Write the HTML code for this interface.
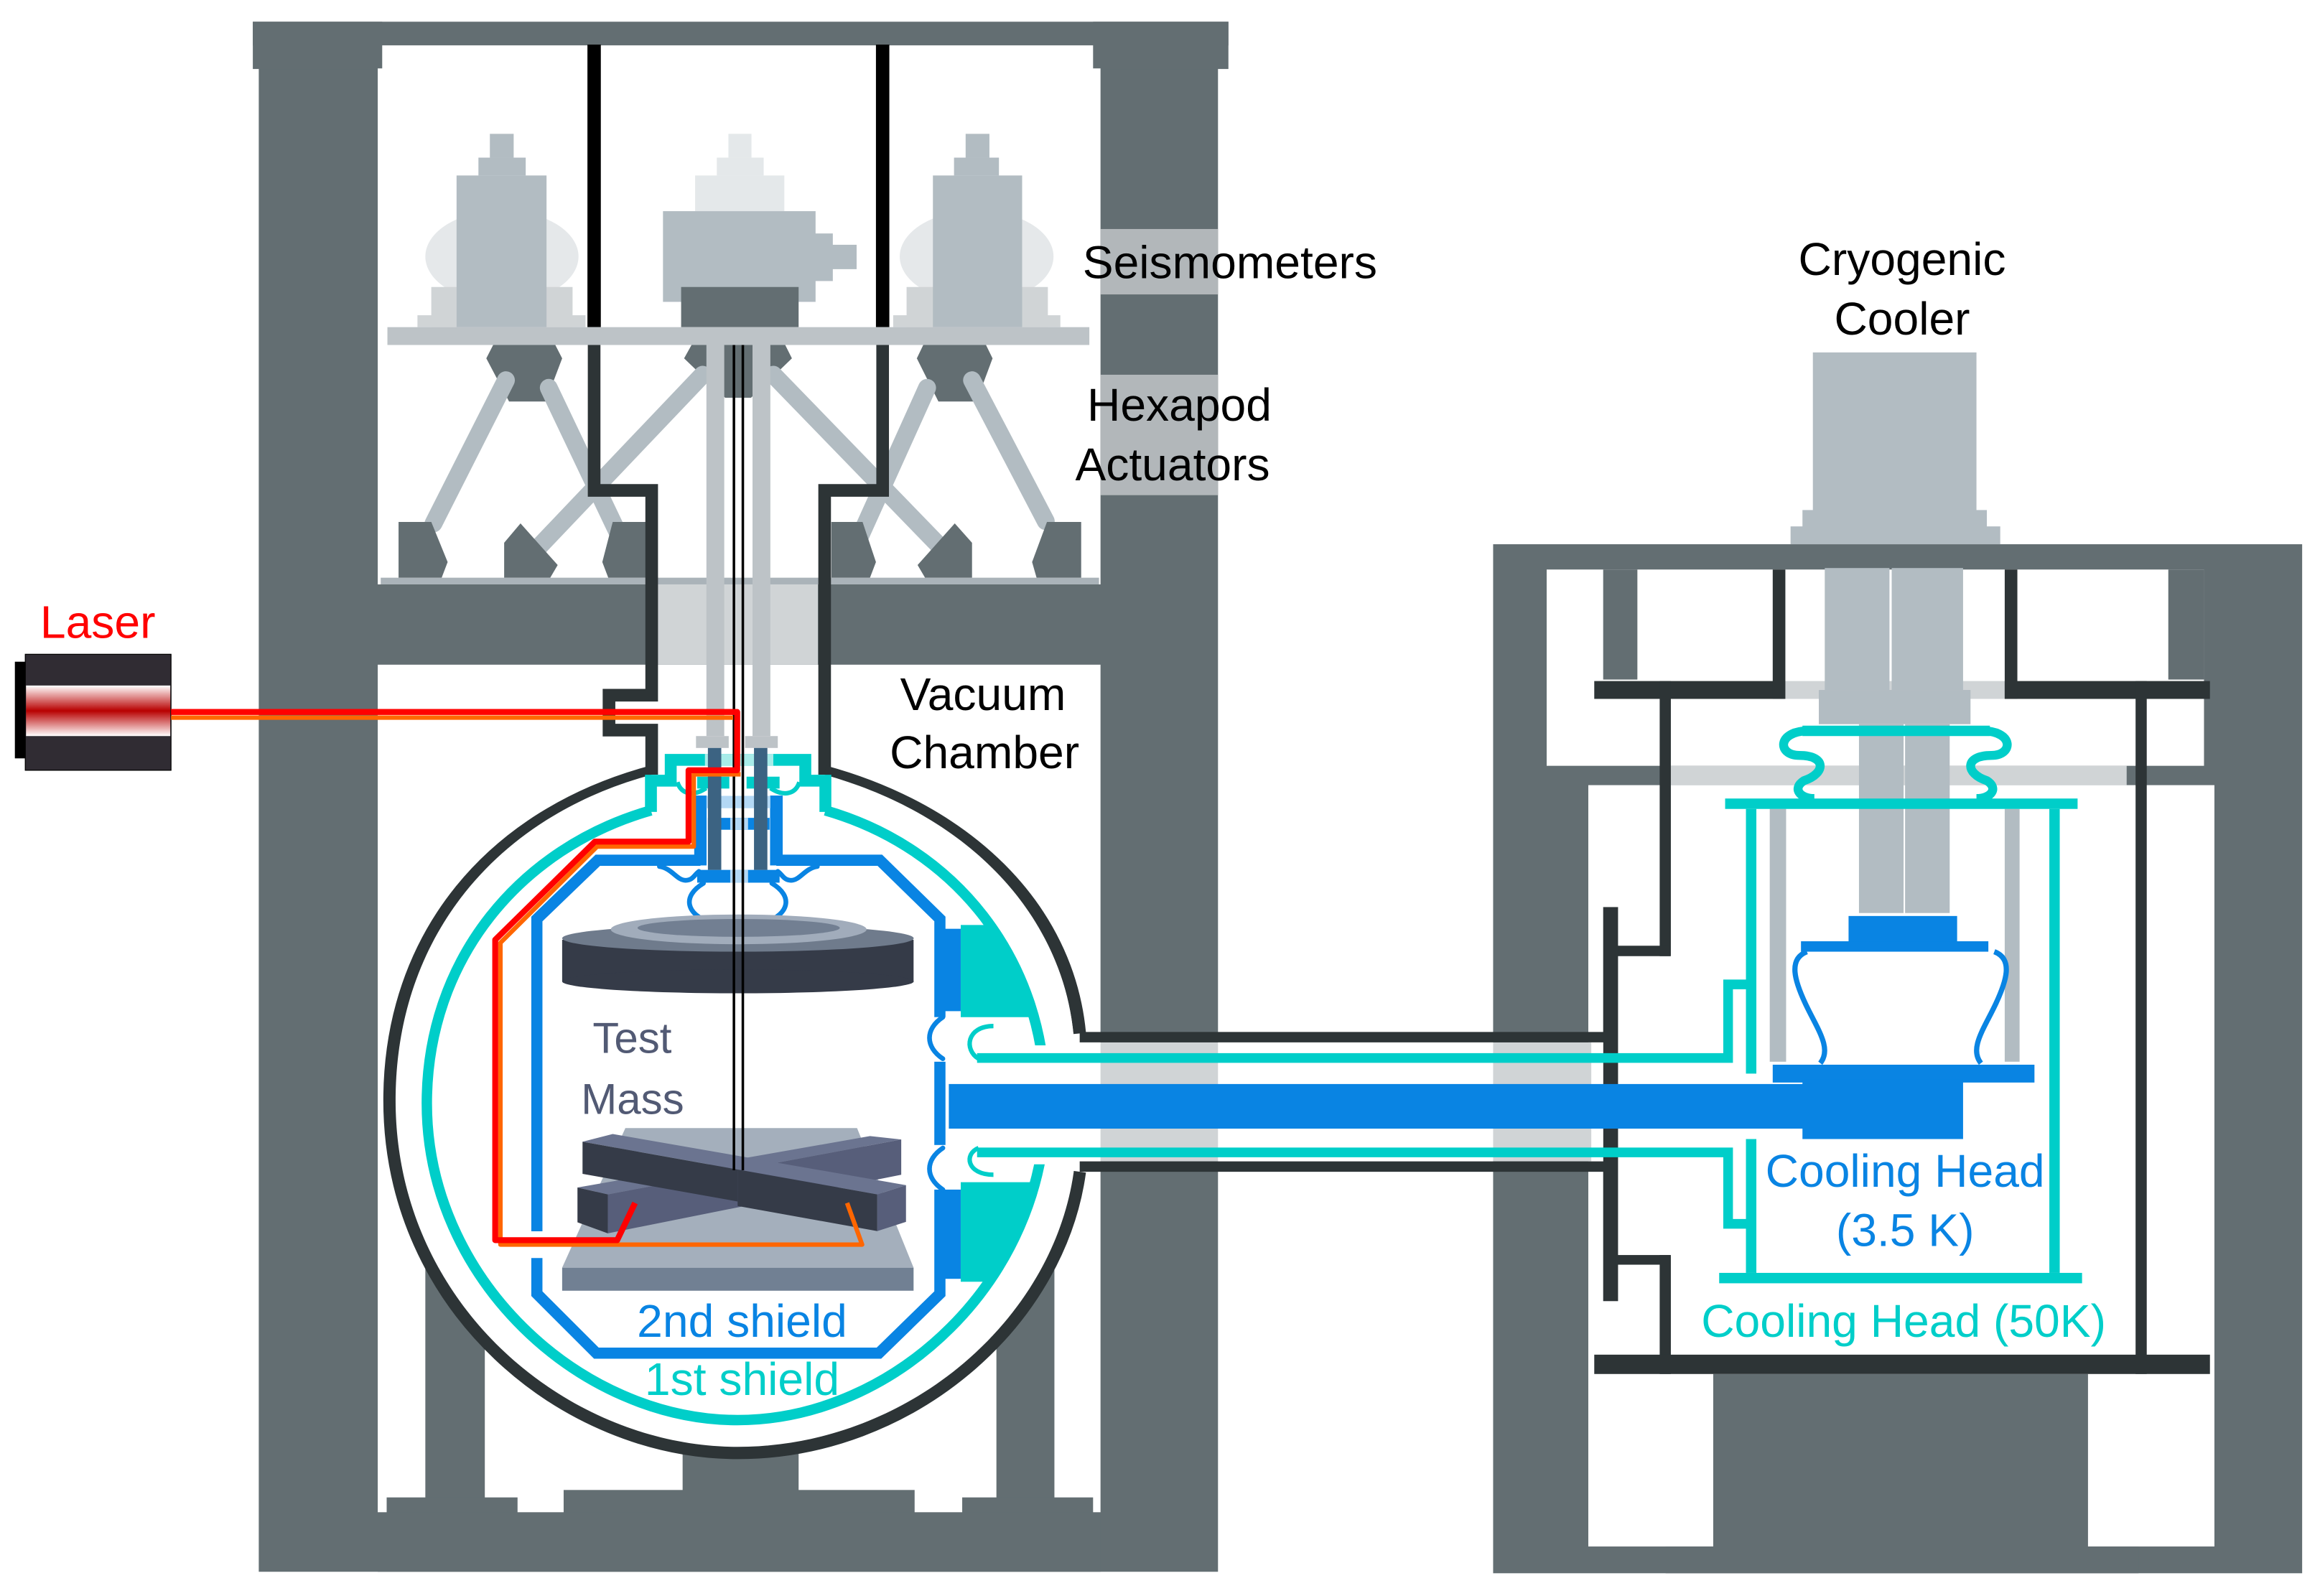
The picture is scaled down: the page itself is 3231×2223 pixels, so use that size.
<!DOCTYPE html>
<html><head><meta charset="utf-8"><style>
html,body{margin:0;padding:0;background:#fff;}
svg{display:block;}
text{font-family:"Liberation Sans",Arial,sans-serif;}
</style></head><body>
<svg width="3231" height="2223" viewBox="0 0 1560 1073.3" preserveAspectRatio="none" xmlns="http://www.w3.org/2000/svg">
<defs>
<linearGradient id="lz" x1="0" y1="0" x2="0" y2="1">
<stop offset="0" stop-color="#fff"/><stop offset="0.5" stop-color="#b80000"/><stop offset="1" stop-color="#fff"/>
</linearGradient>
<clipPath id="cres"><rect x="646" y="622" width="80" height="62"/><rect x="646" y="795" width="80" height="67"/></clipPath>
</defs>
<rect width="1560" height="1073.3" fill="#fff"/>

<!-- LEFT FRAME -->
<rect x="174" y="15" width="645" height="1042" fill="#636e72"/>
<rect x="170" y="14.6" width="656" height="16" fill="#636e72"/>
<rect x="170" y="14.6" width="87" height="31.8" fill="#636e72"/>
<rect x="735" y="14.6" width="91" height="31.8" fill="#636e72"/>
<rect x="257" y="30.5" width="478" height="16" fill="#fff"/>
<rect x="254" y="46" width="486" height="347" fill="#fff"/>
<rect x="254" y="447" width="486" height="570" fill="#fff"/>
<rect x="286" y="720" width="40" height="300" fill="#636e72"/>
<rect x="670" y="720" width="39" height="300" fill="#636e72"/>
<rect x="459" y="960" width="78" height="60" fill="#636e72"/>
<rect x="379" y="1002" width="236" height="20" fill="#636e72"/>
<rect x="260" y="1007" width="88" height="15" fill="#636e72"/>
<rect x="647" y="1007" width="88" height="15" fill="#636e72"/>
<rect x="254" y="1017" width="486" height="40" fill="#636e72"/>
<rect x="740" y="154" width="79" height="44" fill="#b2b7ba"/>
<rect x="740" y="252" width="79" height="81" fill="#b2b7ba"/>
<rect x="442" y="393" width="108" height="54" fill="#d0d4d6"/>
<rect x="256" y="388.5" width="483" height="4.5" fill="#aab3b9"/>

<!-- seismometers -->
<ellipse cx="337.5" cy="172.5" rx="51.5" ry="31" fill="#e5e8ea"/>
<rect x="290" y="193" width="95" height="27" fill="#d0d4d6"/>
<rect x="280.7" y="212" width="113" height="8" fill="#d0d4d6"/>
<rect x="307" y="118" width="60.5" height="102" fill="#b2bcc2"/>
<rect x="321.7" y="106" width="31.8" height="12" fill="#b2bcc2"/>
<rect x="329.4" y="90" width="16" height="16" fill="#b2bcc2"/>
<ellipse cx="656.7" cy="172.5" rx="51.7" ry="31" fill="#e5e8ea"/>
<rect x="609.6" y="193" width="95" height="27" fill="#d0d4d6"/>
<rect x="600.6" y="212" width="112.4" height="8" fill="#d0d4d6"/>
<rect x="627.3" y="118" width="60" height="102" fill="#b2bcc2"/>
<rect x="641.5" y="106" width="30.2" height="12" fill="#b2bcc2"/>
<rect x="649.3" y="90" width="16" height="16" fill="#b2bcc2"/>
<rect x="489.8" y="90" width="15.5" height="16" fill="#e4e8ea"/>
<rect x="482" y="106" width="31.5" height="12" fill="#e4e8ea"/>
<rect x="467.4" y="118" width="60" height="24" fill="#e4e8ea"/>
<rect x="445.8" y="142" width="102.6" height="61" fill="#b2bcc2"/>
<rect x="548" y="157" width="12" height="32" fill="#b2bcc2"/>
<rect x="559" y="164.6" width="17" height="16.4" fill="#b2bcc2"/>
<rect x="458" y="193" width="79" height="27" fill="#636e72"/>
<rect x="395" y="30" width="9" height="190" fill="#000"/>
<rect x="589" y="30" width="9" height="190" fill="#000"/>
<rect x="260.5" y="220" width="472" height="12" fill="#bdc3c7"/>

<!-- hexapod -->
<polygon points="331.6,232 373.4,232 378,241 367,270 342.3,270 327,241" fill="#636e72"/>
<polygon points="620.8,232 663,232 667.4,241 656.6,270 631,270 616.5,241" fill="#636e72"/>
<polygon points="465,232 528,232 532.5,241 505,267.5 487.6,267.5 460,241" fill="#636e72"/>
<g stroke="#b2bcc2" stroke-width="12" stroke-linecap="round">
<line x1="340.2" y1="255.7" x2="291.5" y2="352"/>
<line x1="369" y1="260.8" x2="419" y2="365.8"/>
<line x1="472.5" y1="252" x2="362.6" y2="367.5"/>
<line x1="520" y1="252" x2="632" y2="367.5"/>
<line x1="653.6" y1="255.7" x2="703.2" y2="350.5"/>
<line x1="623.4" y1="260.8" x2="576" y2="365.8"/>
</g>
<g fill="#636e72">
<polygon points="268,388.5 268,351 290,351 301,378 297,388.5"/>
<polygon points="339,388.5 339,365 350,352 375,380 370,388.5"/>
<polygon points="409,388.5 405,378 412,351 434.6,351 434.6,388.5"/>
<polygon points="559,388.5 559,351 580,351 589,378 585,388.5"/>
<polygon points="622,388.5 617,380 642,352 653.6,365 653.6,388.5"/>
<polygon points="697,388.5 694,378 704,351 727,351 727,388.5"/>
</g>

<!-- vacuum chamber neck + sphere -->
<g fill="none" stroke="#2d3436" stroke-width="8.5" stroke-linejoin="miter">
<path d="M399.5,232 L399.5,329.8 L438.2,329.8 L438.2,467.5 L409.5,467.5 L409.5,491 L438.2,491 L438.2,521"/>
<path d="M593.5,232 L593.5,329.8 L554.5,329.8 L554.5,521"/>
<path d="M438.2,519 C330,548 262,630 262,740 C262,880 380,977 496,977 C612,977 712,890 726,788"/>
<path d="M554.5,519 C650,545 718,610 726,695"/>
</g>
<path d="M438.2,521 C334,549 266,630 266,740 C266,878 382,973 496,973 C610,973 708,888 722,788 L722,697 C714,612 648,547 554.5,521 Z" fill="#fff"/>

<rect x="475" y="232" width="12" height="263" fill="#bdc3c7"/>
<rect x="506" y="232" width="12" height="263" fill="#bdc3c7"/>
<rect x="468" y="495" width="22" height="8" fill="#bdc3c7"/>
<rect x="501" y="495" width="22" height="8" fill="#bdc3c7"/>

<!-- cyan shield 1 -->
<path d="M437.7,545 C350,570 287,645 287,742 C287,860 390,955 496,955 C602,955 703,860 703,742 C703,645 642,570 555,545 Z" fill="#00cec9" clip-path="url(#cres)"/>
<path d="M437.7,545 C350,570 287,645 287,742 C287,860 390,955 496,955 C602,955 703,860 703,742 C703,645 642,570 555,545" fill="none" stroke="#00cec9" stroke-width="7"/>
<path d="M437.7,546 L437.7,525 L451,525 L451,511 L541.5,511 L541.5,525 L555,525 L555,546" fill="none" stroke="#00cec9" stroke-width="8"/>
<rect x="474" y="507" width="46" height="8" fill="#a8ece9"/>
<rect x="468.8" y="522.3" width="21.6" height="8" fill="#00cec9"/>
<rect x="502" y="522.3" width="22.2" height="8" fill="#00cec9"/>
<g fill="none" stroke="#00cec9" stroke-width="3">
<path d="M455.5,526 C458,534 466,536 474.8,530"/>
<path d="M537.5,526 C535,534 527,536 518,530"/>
</g>

<!-- blue shield 2 -->
<path d="M471,578.5 L402,578.5 L361,618 L361,828 M361,846 L361,870 L401,910 L591,910 L632,870 L632,618 L591.6,578.5 L522,578.5" fill="none" stroke="#0984e3" stroke-width="7.5"/>
<rect x="630" y="624.6" width="16" height="55.4" fill="#0984e3"/>
<rect x="630" y="800" width="16" height="60" fill="#0984e3"/>
<rect x="628" y="684" width="8" height="30" fill="#fff"/>
<rect x="628" y="770" width="8" height="30" fill="#fff"/>
<rect x="466.8" y="535" width="8.3" height="47" fill="#0984e3"/>
<rect x="517.8" y="535" width="8.5" height="47" fill="#0984e3"/>
<rect x="475" y="535.2" width="43" height="8.3" fill="#b3d8f5"/>
<rect x="476" y="550" width="41.5" height="8" fill="#0984e3"/>
<rect x="491" y="550" width="12" height="8" fill="#b3d8f5"/>
<rect x="468.8" y="585" width="55.4" height="8.6" fill="#0984e3"/>
<rect x="491" y="585" width="12" height="8.6" fill="#b3d8f5"/>
<g fill="none" stroke="#0984e3" stroke-width="3.2" stroke-linecap="round">
<path d="M473,594 C458,603 462,615 477,620"/>
<path d="M519,594 C534,603 530,615 515,620"/>
<path d="M443.4,582.7 C452,584 455,592 461,592 C466,592 467,588 470,586"/>
<path d="M549.6,582.7 C541,584 538,592 532,592 C527,592 526,588 523,586"/>
<path d="M634,684 C622,692 622,704 634,712"/>
<path d="M634,772 C622,780 622,792 634,800"/>
</g>
<rect x="476" y="503" width="9" height="82" fill="#3c6382"/>
<rect x="507" y="503" width="9" height="82" fill="#3c6382"/>

<!-- test mass -->
<rect x="378" y="632" width="236.3" height="28" fill="#353b48"/>
<ellipse cx="496.2" cy="660" rx="118.2" ry="8" fill="#353b48"/>
<ellipse cx="496.2" cy="631" rx="118.2" ry="9" fill="#6f7b8c"/>
<ellipse cx="496.7" cy="625" rx="86" ry="10" fill="#a1acbb"/>
<ellipse cx="496.7" cy="624" rx="68" ry="6" fill="#727f92"/>
<polygon points="420.5,758.6 576.3,758.6 614.3,852.5 378,852.5" fill="#a4afbc"/>
<rect x="378" y="852.5" width="236.3" height="15.5" fill="#718093"/>
<polygon points="388.3,798.6 585,764 606,766.3 408.7,803.2" fill="#6b7490"/>
<polygon points="408.7,803.2 606,766.3 606,790 408.7,829.4" fill="#575e7a"/>
<polygon points="388.3,798.6 408.7,803.2 408.7,829.4 388.3,822" fill="#353b48"/>
<polygon points="391.7,767.8 412,762.6 609.2,797 589.9,803.2" fill="#6b7490"/>
<polygon points="391.7,767.8 496,786.5 496,808 391.7,789.4" fill="#353b48"/>
<polygon points="496,786.5 589.9,803.2 589.9,827.9 496,811" fill="#353b48"/>
<polygon points="589.9,803.2 609.2,797 609.2,821.7 589.9,827.9" fill="#575e7a"/>
<line x1="493.5" y1="232" x2="493.5" y2="787" stroke="#000" stroke-width="1.7"/>
<line x1="499.5" y1="232" x2="499.5" y2="787" stroke="#000" stroke-width="1.7"/>

<!-- laser -->
<rect x="10" y="445" width="8" height="65" fill="#000"/>
<rect x="17" y="440" width="98" height="78" fill="#302c33" stroke="#000" stroke-width="0.6"/>
<rect x="17.5" y="461" width="97" height="34" fill="url(#lz)"/>
<g fill="none" stroke-linejoin="round">
<path d="M115,482.6 L493,482.6" stroke="#ff6600" stroke-width="3"/>
<path d="M498,520.7 L466.5,520.7 L466.5,569.3 L401.5,569.3 L336.5,634 L336.5,837 L579.7,837 L569.6,809" stroke="#ff6600" stroke-width="3"/>
<path d="M115,478.8 L495.7,478.8 L495.7,518 L463,518 L463,566 L400,566 L333,632 L333,834 L415,834 L427,809" stroke="#ff0000" stroke-width="4"/>
</g>

<!-- RIGHT FRAME -->
<rect x="1004" y="366" width="544" height="692" fill="#636e72"/>
<rect x="1040" y="383" width="442" height="132" fill="#fff"/>
<rect x="1078" y="383" width="23" height="74" fill="#636e72"/>
<rect x="1458" y="383" width="24" height="74" fill="#636e72"/>
<rect x="1068" y="528" width="421" height="512" fill="#fff"/>
<rect x="1120" y="515" width="310" height="13" fill="#d0d4d6"/>
<rect x="1152" y="924" width="252" height="116" fill="#636e72"/>
<rect x="1120" y="1040" width="318" height="18" fill="#636e72"/>
<rect x="1200" y="458" width="148" height="12" fill="#d0d4d6"/>
<rect x="1219" y="237" width="110" height="107" fill="#b2bcc2"/>
<rect x="1212" y="343" width="124" height="12" fill="#b2bcc2"/>
<rect x="1204" y="354" width="141" height="12" fill="#b2bcc2"/>
<rect x="1227" y="382" width="43.5" height="82" fill="#b2bcc2"/>
<rect x="1272" y="382" width="48" height="82" fill="#b2bcc2"/>
<rect x="1223" y="464" width="102" height="23" fill="#b2bcc2"/>
<rect x="1250" y="487" width="30" height="127" fill="#b2bcc2"/>
<rect x="1281" y="487" width="30" height="127" fill="#b2bcc2"/>
<rect x="1190" y="544" width="11" height="170" fill="#b2bcc2"/>
<rect x="1348" y="544" width="10" height="170" fill="#b2bcc2"/>
<g fill="#2d3436">
<rect x="1072" y="458" width="128" height="12"/>
<rect x="1348" y="458" width="138" height="12"/>
<rect x="1192" y="383" width="8.5" height="87"/>
<rect x="1348" y="383" width="8.5" height="87"/>
<rect x="1116" y="458" width="7.5" height="185"/>
<rect x="1086" y="636" width="37" height="7"/>
<rect x="1078" y="610" width="10" height="265"/>
<rect x="1086" y="844" width="37" height="6.5"/>
<rect x="1116" y="844" width="7.5" height="80"/>
<rect x="1436" y="458" width="7.5" height="466"/>
<rect x="1072" y="911" width="414" height="13"/>
</g>
<g fill="#00cec9">
<rect x="1212" y="488" width="126" height="7"/>
<rect x="1160" y="537" width="237" height="7"/>
<rect x="1174" y="544" width="7" height="178"/>
<rect x="1174" y="766" width="7" height="90"/>
<rect x="1378" y="544" width="7" height="312"/>
<rect x="1156" y="856" width="244" height="7"/>
</g>
<g fill="none" stroke="#00cec9" stroke-width="6">
<path d="M1215,491.5 C1195,492 1195,508 1210,508 C1228,508 1228,520 1213,525 C1205,530 1210,537 1220,537"/>
<path d="M1334,491.5 C1354,492 1354,508 1339,508 C1321,508 1321,520 1336,525 C1344,530 1339,537 1329,537"/>
</g>
<g fill="#0984e3">
<rect x="1243" y="616" width="73" height="19"/>
<rect x="1211" y="633" width="126" height="7"/>
<rect x="1192" y="716" width="176" height="12"/>
<rect x="1212" y="726" width="108" height="40"/>
</g>
<g fill="none" stroke="#0984e3" stroke-width="3.5">
<path d="M1215,640 C1202,645 1207,660 1214,675 C1222,692 1232,705 1224,715"/>
<path d="M1341,640 C1354,645 1349,660 1342,675 C1334,692 1324,705 1332,715"/>
</g>

<!-- tube -->
<rect x="646" y="703" width="80" height="80" fill="#fff"/>
<rect x="726" y="701" width="352" height="80" fill="#fff"/>
<rect x="740" y="701" width="79" height="80" fill="#d0d4d6"/>
<rect x="1004" y="701" width="66" height="80" fill="#d0d4d6"/>
<g fill="none" stroke="#2d3436" stroke-width="7">
<path d="M726,697.5 L1082,697.5 M726,784.5 L1082,784.5"/>
</g>
<rect x="638" y="729" width="580" height="30" fill="#0984e3"/>
<g fill="none" stroke="#00cec9" stroke-width="6.5">
<path d="M657,711.5 L1162,711.5 L1162,662 L1177,662"/>
<path d="M657,775 L1162,775 L1162,823 L1177,823"/>
</g>
<g fill="none" stroke="#00cec9" stroke-width="3">
<path d="M668,690 C650,690 648,706 658,712"/>
<path d="M668,790 C650,790 648,776 658,772"/>
</g>

<!-- LABELS -->
<g font-size="31">
<text x="728" y="187" fill="#000">Seismometers</text>
<text x="731" y="283" fill="#000">Hexapod</text>
<text x="723" y="323" fill="#000">Actuators</text>
<text x="27" y="429" fill="#ff0000">Laser</text>
<text x="661" y="477.6" fill="#000" text-anchor="middle">Vacuum</text>
<text x="662" y="516.5" fill="#000" text-anchor="middle">Chamber</text>
<text x="1279" y="185" fill="#000" text-anchor="middle">Cryogenic</text>
<text x="1279" y="225" fill="#000" text-anchor="middle">Cooler</text>
<text x="1281" y="798" fill="#0984e3" text-anchor="middle">Cooling Head</text>
<text x="1281" y="838" fill="#0984e3" text-anchor="middle">(3.5 K)</text>
<text x="1280" y="899" fill="#00cec9" text-anchor="middle">Cooling Head (50K)</text>
<text x="499" y="899" fill="#0984e3" text-anchor="middle">2nd shield</text>
<text x="499" y="938" fill="#00cec9" text-anchor="middle">1st shield</text>
</g>
<g font-size="29" fill="#525a74">
<text x="398.5" y="708">Test</text>
<text x="390.7" y="749">Mass</text>
</g>
</svg>
</body></html>
